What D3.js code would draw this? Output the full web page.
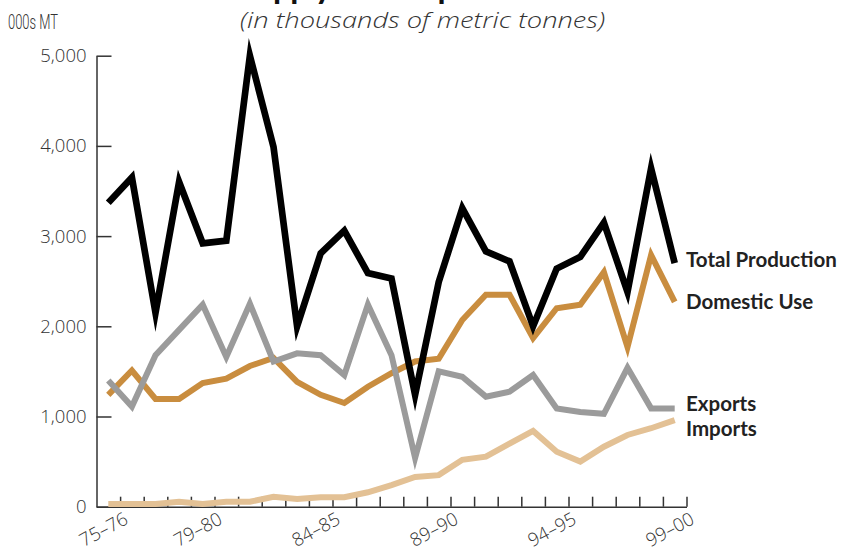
<!DOCTYPE html>
<html>
<head>
<meta charset="utf-8">
<script src="https://cdn.jsdelivr.net/npm/d3@7"></script>
<style>
  html, body { margin: 0; padding: 0; background: #fff; }
  svg { display: block; }
</style>
</head>
<body>
<svg id="chart" width="857" height="550"></svg>
<script>
// Crop seasons and volumes (thousands of metric tonnes)
const seasons = ["75–76", "76–77", "77–78", "78–79", "79–80", "80–81", "81–82", "82–83",
  "83–84", "84–85", "85–86", "86–87", "87–88", "88–89", "89–90", "90–91", "91–92",
  "92–93", "93–94", "94–95", "95–96", "96–97", "97–98", "98–99", "99–00"];
const labeledSeasons = ["75–76", "79–80", "84–85", "89–90", "94–95", "99–00"];
const yTicks = [0, 1000, 2000, 3000, 4000, 5000];

const totalProduction = [3370, 3650, 2150, 3600, 2920, 2950, 5000, 3990, 2000, 2810, 3060, 2590,
  2530, 1240, 2490, 3310, 2830, 2720, 2000, 2640, 2770, 3150, 2380, 3750, 2700];
const domesticUse = [1240, 1510, 1195, 1195, 1370, 1420, 1560, 1650, 1385, 1240, 1150, 1330,
  1480, 1610, 1640, 2070, 2350, 2350, 1870, 2200, 2240, 2600, 1770, 2790, 2270];
const exportsVol = [1400, 1110, 1680, 1960, 2240, 1660, 2250, 1610, 1700, 1680, 1460, 2240,
  1680, 540, 1500, 1440, 1220, 1275, 1460, 1090, 1050, 1030, 1540, 1090, 1090];
const importsVol = [30, 30, 30, 55, 30, 55, 55, 110, 85, 105, 105, 160, 240, 330, 350, 520, 555,
  700, 840, 610, 500, 665, 795, 870, 960];

const svg = d3.select("#chart");
const plotLeft = 96.5, plotRight = 686.5, plotTop = 55.7, plotBottom = 506.7;

const x = d3.scaleBand().domain(seasons).range([plotLeft, plotRight]).padding(0);
const edge = d3.scaleLinear().domain([0, seasons.length]).range([plotLeft, plotRight]);
const y = d3.scaleLinear().domain([0, 5000]).range([plotBottom, plotTop]);

// Title runs off the top of the page; subtitle below it
svg.append("text")
  .attr("x", 240).attr("y", -1)
  .attr("font-family", "Lato").attr("font-weight", 900).attr("font-size", 30)
  .attr("fill", "#111")
  .text("Supply and Disposition");
svg.append("text")
  .attr("x", 240).attr("y", 28)
  .attr("textLength", 365).attr("lengthAdjust", "spacingAndGlyphs")
  .attr("font-family", "Open Sans").attr("font-style", "italic").attr("font-weight", 300)
  .attr("font-size", 22).attr("fill", "#333")
  .text("(in thousands of metric tonnes)");

// Unit label
svg.append("text")
  .attr("x", 8).attr("y", 29)
  .attr("textLength", 50).attr("lengthAdjust", "spacingAndGlyphs")
  .attr("font-family", "Roboto").attr("font-weight", 300).attr("font-size", 20).attr("fill", "#333")
  .text("000s MT");

// Y axis
const yAxis = svg.append("g")
  .attr("transform", `translate(${plotLeft},0)`)
  .call(d3.axisLeft(y).tickValues(yTicks).tickFormat(d3.format(","))
    .tickSizeInner(-15).tickSizeOuter(0).tickPadding(10));
yAxis.select(".domain").attr("stroke", "#333").attr("stroke-width", 1.5);
yAxis.selectAll(".tick line").attr("stroke", "#333").attr("stroke-width", 1.5);
yAxis.selectAll(".tick text")
  .attr("font-family", "Open Sans").attr("font-weight", 300).attr("font-size", 18.5)
  .attr("fill", "#333");

// X axis: ticks at season boundaries, pointing up into the plot
const xAxis = svg.append("g")
  .attr("transform", `translate(0,${plotBottom})`)
  .call(d3.axisBottom(edge).tickValues(d3.range(1, seasons.length + 1))
    .tickFormat("").tickSizeInner(-10).tickSizeOuter(0));
xAxis.select(".domain").attr("stroke", "#333").attr("stroke-width", 1.5);
xAxis.selectAll(".tick line").attr("stroke", "#333").attr("stroke-width", 1.5);

svg.append("g").selectAll("text")
  .data(labeledSeasons)
  .join("text")
  .attr("transform", d => `translate(${x(d) + x.bandwidth() / 2 + 21},523) rotate(-28)`)
  .attr("text-anchor", "end")
  .attr("font-family", "Open Sans").attr("font-weight", 300).attr("font-size", 18.5)
  .attr("fill", "#333")
  .text(d => d);

// Series lines
const line = d3.line()
  .x((d, i) => x(seasons[i]) + x.bandwidth() / 2)
  .y(d => y(d));

const series = [
  { values: importsVol, color: "#e3c195", width: 6 },
  { values: domesticUse, color: "#c98d3f", width: 6 },
  { values: exportsVol, color: "#9b9b9b", width: 6 },
  { values: totalProduction, color: "#000000", width: 6.7 }
];
svg.append("g").selectAll("path")
  .data(series)
  .join("path")
  .attr("d", d => line(d.values))
  .attr("fill", "none")
  .attr("stroke", d => d.color)
  .attr("stroke-width", d => d.width)
  .attr("stroke-linejoin", "miter")
  .attr("stroke-miterlimit", 12)
  .attr("stroke-linecap", "butt");

// Series names at the line ends
const names = [
  { text: "Total Production", y: 267 },
  { text: "Domestic Use", y: 309 },
  { text: "Exports", y: 411 },
  { text: "Imports", y: 436 }
];
svg.append("g").selectAll("text")
  .data(names)
  .join("text")
  .attr("x", 686).attr("y", d => d.y)
  .attr("font-family", "Lato").attr("font-weight", 700).attr("font-size", 20.5)
  .attr("fill", "#222")
  .text(d => d.text);
</script>
</body>
</html>
